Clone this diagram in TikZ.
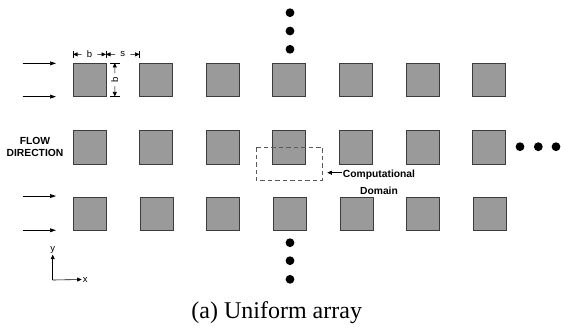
\documentclass[tikz,border=0pt]{standalone}
\usepackage{fontspec}
\setmainfont{Liberation Serif}
\setsansfont{Liberation Sans}
\usetikzlibrary{arrows.meta,calc}
\definecolor{blockfill}{HTML}{9A9A9A}
\definecolor{blockedge}{HTML}{3C3C3C}
\definecolor{domedge}{HTML}{5A5A5A}
\begin{document}
\begin{tikzpicture}[x=1pt,y=-1pt,
  block/.style={draw=blockedge,fill=blockfill,line width=0.9pt,
    minimum width=33pt,minimum height=33.5pt,inner sep=0pt,outer sep=0pt},
  flowarrow/.style={line width=0.7pt,-{Triangle[length=6pt,width=3.8pt]}},
  dimarrow/.style={line width=0.6pt,-{Triangle[length=4.5pt,width=4pt]}},
  tick/.style={line width=0.6pt},
  dimlabel/.style={font=\sffamily\fontsize{9.5}{10}\selectfont,inner ysep=1pt,inner xsep=5pt},
  boldlabel/.style={font=\sffamily\bfseries\fontsize{10.3}{12}\selectfont,align=center,inner sep=1pt},
  domainbox/.style={draw=domedge,line width=0.8pt,dash pattern=on 4.5pt off 3pt},
  dot/.style={circle,fill=black,minimum size=8.8pt,inner sep=0pt},
  axislabel/.style={font=\sffamily\fontsize{9.5}{10}\selectfont,inner sep=1pt},
]
\useasboundingbox (0,0) rectangle (561,327);

% square cylinders: three rows of seven
\foreach \r/\yy/\dx in {1/79.7/0,2/147.2/0,3/213.8/0.7}
  \foreach \c in {1,...,7}
    \node[block] (s\r\c) at ({89.5+66.6*(\c-1)+\dx},\yy) {};

% computational domain (dashed) around the centre cylinder
\coordinate (dmA) at ($(s24.center)+(-33,0)$);
\coordinate (dmB) at ($(s24.center)+(33.2,33.5)$);
\draw[domainbox] (dmA) rectangle (dmB);
\node[boldlabel] (dom) at (379,182.5) {Computational\\[5pt]Domain};
\coordinate (dtip) at (327.3,172.7);
\draw[dimarrow] (dom.west |- dtip) -- (dtip);

% flow direction
\node[boldlabel] (flow) at (35,146.7) {FLOW\\DIRECTION};
\coordinate (fa1) at ($(s11.north west)+(-50.3,0.4)$);
\coordinate (fb1) at ($(s11.north west)+(-17,0.4)$);
\coordinate (fa2) at ($(s11.south west)+(-50.3,0.2)$);
\coordinate (fb2) at ($(s11.south west)+(-17,0.2)$);
\coordinate (fa3) at ($(s31.north west)+(-51,-1)$);
\coordinate (fb3) at ($(s31.north west)+(-17.7,-1)$);
\coordinate (fa4) at ($(s31.south west)+(-51,-0.3)$);
\coordinate (fb4) at ($(s31.south west)+(-17.7,-0.3)$);
\foreach \i in {1,...,4} \draw[flowarrow] (fa\i) -- (fb\i);

% dimensions b and s
\coordinate (tA) at ($(s11.north west)+(0,-8.6)$);
\coordinate (tB) at ($(s11.north east)+(0,-8.6)$);
\coordinate (tC) at ($(s12.north west)+(0,-8.6)$);
\foreach \t in {tA,tB,tC} \draw[tick] (\t) ++(0,-3.6) -- ++(0,7.2);
\node[dimlabel] (db) at ($(tA)!0.5!(tB)$) {b};
\node[dimlabel] (ds) at ($(tB)!0.5!(tC)$) {s};
\draw[dimarrow] (db.west) -- (tA);
\draw[dimarrow] (db.east) -- (tB);
\draw[dimarrow] (ds.west) -- (tB);
\draw[dimarrow] (ds.east) -- (tC);

\coordinate (tD) at ($(s11.north east)+(8.8,0)$);
\coordinate (tE) at ($(s11.south east)+(8.8,0)$);
\foreach \t in {tD,tE} \draw[tick] (\t) ++(-4.7,0) -- ++(9.4,0);
\node[dimlabel,rotate=90,inner xsep=3.5pt] (dv) at ($(tD)!0.5!(tE)$) {b};
\draw[dimarrow] (dv.east) -- (tD);
\draw[dimarrow] (dv.west) -- (tE);

% continuation dots
\foreach \i/\yy in {1/12.7,2/31,3/49.3} \node[dot] (up\i) at (290,\yy) {};
\foreach \i/\yy in {1/242.7,2/260.7,3/279.3} \node[dot] (dn\i) at (290,\yy) {};
\foreach \i/\xx in {1/520,2/538.3,3/556} \node[dot] (rt\i) at (\xx,146.7) {};

% coordinate axes
\coordinate (ax0) at (52.7,280);
\node[axislabel] (ylab) at (52.7,250) {y};
\node[axislabel] (xlab) at (85.3,279.5) {x};
\draw[dimarrow] (ax0) -- (ylab.south);
\draw[dimarrow] (ax0) -- (xlab.west);

% caption
\node[font=\fontsize{24}{28}\selectfont,inner sep=0pt] (cap) at (276.7,312.5) {(a) Uniform array};
\end{tikzpicture}
\end{document}
